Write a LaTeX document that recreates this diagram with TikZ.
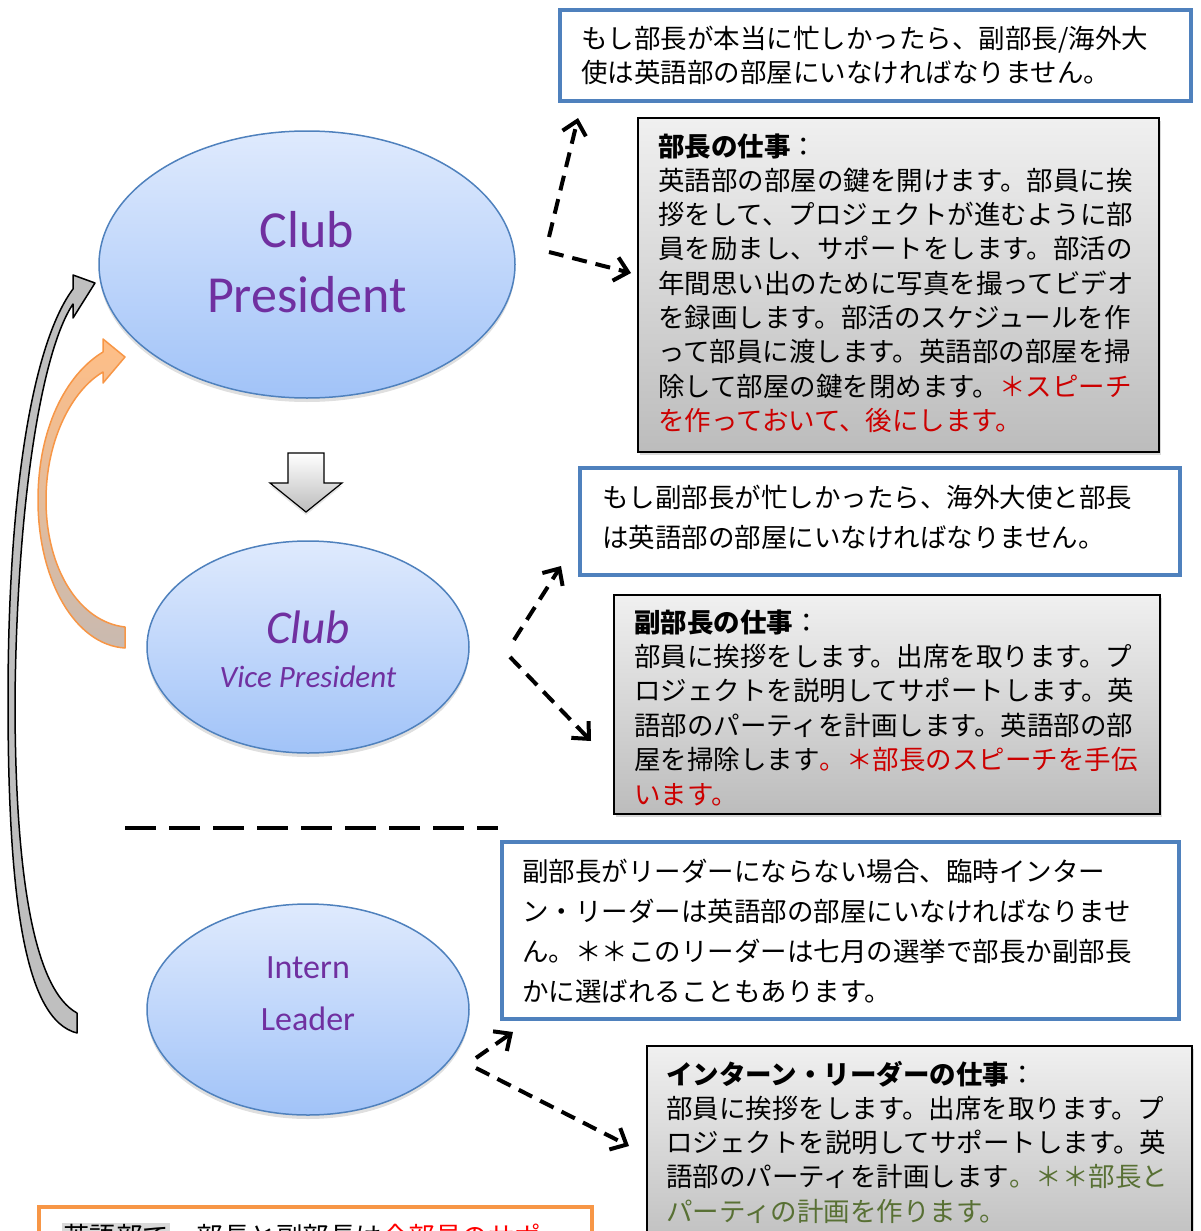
\documentclass[tikz,border=0pt]{standalone}
\usepackage{fontspec}
\setmainfont{Noto Sans CJK JP}
\newfontfamily\rolefont{Carlito}
\usetikzlibrary{shapes.geometric,arrows.meta,shadows}

\definecolor{noteblue}{RGB}{79,129,189}
\definecolor{roletop}{RGB}{223,234,253}
\definecolor{rolebot}{RGB}{161,195,248}
\definecolor{rolepurple}{RGB}{112,48,160}
\definecolor{jobtop}{RGB}{240,240,240}
\definecolor{jobbot}{RGB}{188,188,188}
\definecolor{jobred}{RGB}{204,0,0}
\definecolor{jobgreen}{RGB}{88,112,52}
\definecolor{orangeedge}{RGB}{247,150,70}
\definecolor{orangetop}{RGB}{255,190,134}
\definecolor{orangebot}{RGB}{201,186,176}
\definecolor{hlgray}{RGB}{217,217,217}
\definecolor{arrowgray}{RGB}{191,191,191}

\tikzset{
	role/.style={ellipse, draw=noteblue, line width=1.5pt, top color=roletop, bottom color=rolebot,
		drop shadow={shadow xshift=0pt, shadow yshift=-4pt, opacity=.25}, inner sep=0pt},
	roletext/.style={text=rolepurple, align=center, inner sep=0pt},
	notebox/.style={draw=noteblue, line width=4pt, fill=white, inner sep=0pt},
	jobbox/.style={draw=black, line width=2pt, top color=jobtop, bottom color=jobbot,
		drop shadow={shadow xshift=2pt, shadow yshift=-3pt, opacity=.3}, inner sep=0pt},
	% anchored at the baseline of the last line
	jptext/.style={anchor=base west, inner sep=0pt, align=left, font=\fontsize{26.5}{34.3}\selectfont},
	dasharrow/.style={line width=4pt, dash pattern=on 15pt off 9pt,
		-{Straight Barb[length=13pt,width=24pt]}},
	sepline/.style={line width=4pt, dash pattern=on 31pt off 13pt},
}

\begin{document}
\begin{tikzpicture}[x=1pt,y=-1pt]

	% canvas
	\useasboundingbox (0,0) rectangle (1200,1231);
	\clip (0,0) rectangle (1200,1231);

	% curved arrows
	\draw[fill=arrowgray, line width=1.5pt, line join=round]
		(77,1033) .. controls (25,1020) and (8,900) .. (8,700)
		.. controls (8,480) and (35,340) .. (73,289)
		-- (73,275) -- (95,283) -- (73,318) -- (73,304)
		.. controls (42,350) and (17,500) .. (15,700)
		.. controls (15,880) and (35,990) .. (77,1013) -- cycle;
	\draw[draw=orangeedge, top color=orangetop, bottom color=orangebot, line width=1.5pt, line join=round]
		(125,648) .. controls (75,645) and (38,580) .. (38,500)
		.. controls (38,430) and (65,375) .. (103,352)
		-- (103,339) -- (125,357) -- (103,383) -- (103,372)
		.. controls (72,390) and (46,440) .. (46,500)
		.. controls (46,570) and (80,622) .. (125,627) -- cycle;

	% roles
	\node[role, minimum width=416, minimum height=267] (pres) at (307,264.5) {};
	\node[role, minimum width=322, minimum height=212] (vp) at (308,647) {};
	\node[role, minimum width=322, minimum height=211] (int) at (308,1009.5) {};

	\node[roletext, font=\rolefont\fontsize{52}{65}\selectfont] (pres-t) at (307,262) {Club\\President};
	\node[roletext, font=\rolefont\itshape\fontsize{31}{44}\selectfont] (vp-t) at (308,649)
		{{\fontsize{47}{47}\selectfont Club}\\Vice President};
	\node[roletext, font=\rolefont\fontsize{34}{52}\selectfont] (int-t) at (308,994) {Intern\\Leader};

	% down arrow
	\draw[top color=white, bottom color=jobbot, line width=1.2pt, line join=miter,
		drop shadow={shadow xshift=0pt, shadow yshift=-3pt, opacity=.2}]
		(288,453) -- (324,453) -- (324,483) -- (342,483) -- (306,512) -- (270,483) -- (288,483) -- cycle;

	% separator
	\coordinate (sep-l) at (125,828);
	\coordinate (sep-r) at (498,828);
	\draw[sepline] (sep-l) -- (sep-r);

	% note boxes
	\node[notebox, minimum width=631, minimum height=91] (presnote) at (875.5,55.5) {};
	\node[notebox, minimum width=600, minimum height=107] (vpnote) at (880,521.5) {};
	\node[notebox, minimum width=677, minimum height=177] (intnote) at (840.5,930.5) {};

	\node[jptext, font=\fontsize{26.5}{34}\selectfont] (presnote-t) at (581,82.5)
		{もし部長が本当に忙しかったら、副部長/海外大\\使は英語部の部屋にいなければなりません。};
	\node[jptext, font=\fontsize{26.5}{40}\selectfont] (vpnote-t) at (602,547)
		{もし副部長が忙しかったら、海外大使と部長\\は英語部の部屋にいなければなりません。};
	\node[jptext, font=\fontsize{26.5}{39.7}\selectfont] (intnote-t) at (522,1001)
		{副部長がリーダーにならない場合、臨時インター\\ン・リーダーは英語部の部屋にいなければなりませ\\ん。＊＊このリーダーは七月の選挙で部長か副部長\\かに選ばれることもあります。};

	% job boxes
	\node[jobbox, minimum width=521, minimum height=334] (presjob) at (898.5,285) {};
	\node[jobbox, minimum width=546, minimum height=219] (vpjob) at (887,704.5) {};
	\node[jobbox, minimum width=545, minimum height=214] (intjob) at (919.5,1153) {};

	\node[jptext] (presjob-t) at (658,430.4)
		{{\bfseries 部長の仕事}：\\
		英語部の部屋の鍵を開けます。部員に挨\\
		拶をして、プロジェクトが進むように部\\
		員を励まし、サポートをします。部活の\\
		年間思い出のために写真を撮ってビデオ\\
		を録画します。部活のスケジュールを作\\
		って部員に渡します。英語部の部屋を掃\\
		除して部屋の鍵を閉めます。{\color{jobred}＊スピーチ}\\
		{\color{jobred}を作っておいて、後にします。}};
	\node[jptext, font=\fontsize{26.5}{34.4}\selectfont] (vpjob-t) at (634,804)
		{{\bfseries 副部長の仕事}：\\
		部員に挨拶をします。出席を取ります。プ\\
		ロジェクトを説明してサポートします。英\\
		語部のパーティを計画します。英語部の部\\
		屋を掃除します{\color{jobred}。＊部長のスピーチを手伝}\\
		{\color{jobred}います。}};
	\node[jptext] (intjob-t) at (666,1221.2)
		{{\bfseries インターン・リーダーの仕事}：\\
		部員に挨拶をします。出席を取ります。プ\\
		ロジェクトを説明してサポートします。英\\
		語部のパーティを計画します{\color{jobgreen}。＊＊部長と}\\
		{\color{jobgreen}パーティの計画を作ります。}};

	% dashed arrows
	\coordinate (pres-a) at (549,237);
	\coordinate (pres-b) at (549,252);
	\coordinate (pres-up) at (578,118);
	\coordinate (pres-rt) at (631,273);
	\draw[dasharrow] (pres-a) -- (pres-up);
	\draw[dasharrow] (pres-b) -- (pres-rt);

	\coordinate (vp-a) at (514,640);
	\coordinate (vp-b) at (510,657);
	\coordinate (vp-up) at (561,566);
	\coordinate (vp-rt) at (591,741);
	\draw[dasharrow] (vp-a) -- (vp-up);
	\draw[dasharrow] (vp-b) -- (vp-rt);

	\coordinate (int-a) at (476,1058);
	\coordinate (int-b) at (476,1068);
	\coordinate (int-up) at (513,1032);
	\coordinate (int-rt) at (629,1146);
	\draw[dasharrow] (int-a) -- (int-up);
	\draw[dasharrow] (int-b) -- (int-rt);

	% bottom note
	\node[draw=orangeedge, line width=4pt, fill=white, inner sep=0pt,
		minimum width=553, minimum height=100] (clubnote) at (315.5,1257) {};
	\node[jptext] (clubnote-t) at (62,1246)
		{{\fboxsep=1pt\colorbox{hlgray}{英語部で}}、部長と副部長は{\color{red}全部員のサポ}};

\end{tikzpicture}
\end{document}
